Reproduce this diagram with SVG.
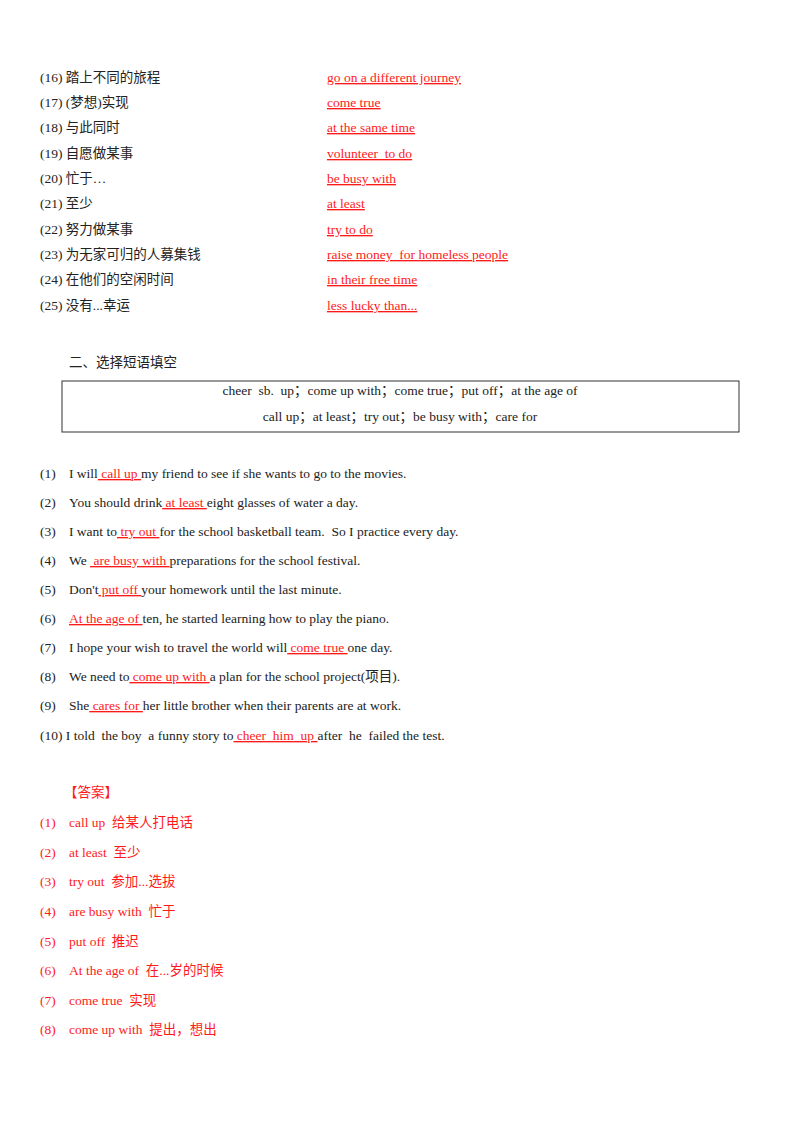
<svg xmlns="http://www.w3.org/2000/svg" width="800" height="1132" viewBox="0 0 800 1132">
<style>
text{font-family:"Liberation Serif","Noto Sans CJK SC",serif;font-size:13.5px;fill:#222;white-space:pre}
.r{fill:#ff1a1a}
.u{text-decoration:underline}
</style>
<rect width="800" height="1132" fill="#fff"/>
<g id="vocab">
<text x="40" y="82">(16) 踏上不同的旅程</text><text class="r u" x="327" y="82">go on a different journey</text>
<text x="40" y="107">(17) (梦想)实现</text><text class="r u" x="327" y="107">come true</text>
<text x="40" y="132">(18) 与此同时</text><text class="r u" x="327" y="132">at the same time</text>
<text x="40" y="158">(19) 自愿做某事</text><text class="r u" x="327" y="158">volunteer  to do</text>
<text x="40" y="183">(20) 忙于…</text><text class="r u" x="327" y="183">be busy with</text>
<text x="40" y="208">(21) 至少</text><text class="r u" x="327" y="208">at least</text>
<text x="40" y="234">(22) 努力做某事</text><text class="r u" x="327" y="234">try to do</text>
<text x="40" y="259">(23) 为无家可归的人募集钱</text><text class="r u" x="327" y="259">raise money  for homeless people</text>
<text x="40" y="284">(24) 在他们的空闲时间</text><text class="r u" x="327" y="284">in their free time</text>
<text x="40" y="310">(25) 没有...幸运</text><text class="r u" x="327" y="310">less lucky than...</text>
</g>
<g id="box">
<text x="69" y="367">二、选择短语填空</text>
<rect x="62" y="381" width="677" height="51" fill="none" stroke="#333" stroke-width="1"/>
<text x="400" y="395" text-anchor="middle">cheer  sb.  up；come up with；come true；put off；at the age of</text>
<text x="400" y="421" text-anchor="middle">call up；at least；try out；be busy with；care for</text>
</g>
<g id="sentences">
<text x="40" y="478">(1)</text><text x="69" y="478">I will<tspan class="r u"> call up </tspan>my friend to see if she wants to go to the movies.</text>
<text x="40" y="507">(2)</text><text x="69" y="507">You should drink<tspan class="r u"> at least </tspan>eight glasses of water a day.</text>
<text x="40" y="536">(3)</text><text x="69" y="536">I want to<tspan class="r u"> try out </tspan>for the school basketball team.  So I practice every day.</text>
<text x="40" y="565">(4)</text><text x="69" y="565">We <tspan class="r u"> are busy with </tspan>preparations for the school festival.</text>
<text x="40" y="594">(5)</text><text x="69" y="594">Don't<tspan class="r u"> put off </tspan>your homework until the last minute.</text>
<text x="40" y="623">(6)</text><text x="69" y="623"><tspan class="r u">At the age of </tspan>ten, he started learning how to play the piano.</text>
<text x="40" y="652">(7)</text><text x="69" y="652">I hope your wish to travel the world will<tspan class="r u"> come true </tspan>one day.</text>
<text x="40" y="681">(8)</text><text x="69" y="681">We need to<tspan class="r u"> come up with </tspan>a plan for the school project(项目).</text>
<text x="40" y="710">(9)</text><text x="69" y="710">She<tspan class="r u"> cares for </tspan>her little brother when their parents are at work.</text>
<text x="40" y="740">(10) I told  the boy  a funny story to<tspan class="r u"> cheer  him  up </tspan>after  he  failed the test.</text>
</g>
<g id="answers">
<text class="r" x="64" y="797">【答案】</text>
<text class="r" x="40" y="827">(1)</text><text class="r" x="69" y="827">call up  给某人打电话</text>
<text class="r" x="40" y="857">(2)</text><text class="r" x="69" y="857">at least  至少</text>
<text class="r" x="40" y="886">(3)</text><text class="r" x="69" y="886">try out  参加...选拔</text>
<text class="r" x="40" y="916">(4)</text><text class="r" x="69" y="916">are busy with  忙于</text>
<text class="r" x="40" y="946">(5)</text><text class="r" x="69" y="946">put off  推迟</text>
<text class="r" x="40" y="975">(6)</text><text class="r" x="69" y="975">At the age of  在...岁的时候</text>
<text class="r" x="40" y="1005">(7)</text><text class="r" x="69" y="1005">come true  实现</text>
<text class="r" x="40" y="1034">(8)</text><text class="r" x="69" y="1034">come up with  提出，想出</text>
</g>
</svg>
